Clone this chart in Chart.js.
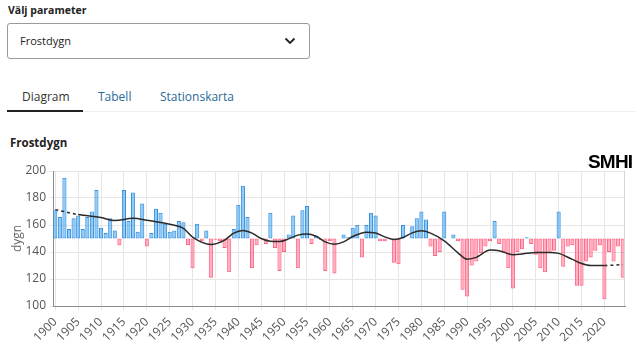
<!DOCTYPE html>
<html><head><meta charset="utf-8">
<script src="https://cdn.jsdelivr.net/npm/chart.js@4"></script>
<style>
html,body{margin:0;padding:0;background:#fff;width:640px;height:352px;overflow:hidden;font-family:"Open Sans",sans-serif;color:#222}
.abs{position:absolute;line-height:1;white-space:nowrap}
#lbl{left:8px;top:5px;font-size:10.5px;font-weight:700}
#sel{left:7px;top:23px;width:303px;height:36px;border:1px solid #9a9a9a;border-radius:3px;box-sizing:border-box}
#selt{left:20px;top:35px;font-size:11px;color:#222}
#chev{left:284px;top:37px}
.tab{top:91px;font-size:12px}
#t1{left:22px;color:#333}
#t2{left:98px;color:#2a6a9a}
#t3{left:160px;color:#2a6a9a}
#uline{left:7px;top:110px;width:76px;height:2px;background:#222}
#gline{left:83px;top:111px;width:552px;height:1px;background:#eee}
#title{left:10px;top:137px;font-size:11.5px;font-weight:700}
#logo{left:588px;top:152px;font-family:"Liberation Sans Narrow",sans-serif;font-weight:700;font-size:19px;letter-spacing:-0.8px;color:#000;z-index:2}
#wrap{left:0;top:160px;width:640px;height:192px}
</style></head>
<body>
<div class="abs" id="lbl">Välj parameter</div>
<div class="abs" id="sel"></div>
<div class="abs" id="selt">Frostdygn</div>
<svg class="abs" id="chev" width="12" height="8" viewBox="0 0 12 8"><polyline points="1.5,1.5 6,6 10.5,1.5" fill="none" stroke="#222" stroke-width="1.8"/></svg>
<div class="abs tab" id="t1">Diagram</div>
<div class="abs tab" id="t2">Tabell</div>
<div class="abs tab" id="t3">Stationskarta</div>
<div class="abs" id="uline"></div>
<div class="abs" id="gline"></div>
<div class="abs" id="title">Frostdygn</div>
<div class="abs" id="logo">SMHI</div>
<div class="abs" id="wrap"><canvas id="c"></canvas></div>
<script>
const years = ['1900','1901','1902','1903','1904','1905','1906','1907','1908','1909',
'1910','1911','1912','1913','1914','1915','1916','1917','1918','1919',
'1920','1921','1922','1923','1924','1925','1926','1927','1928','1929',
'1930','1931','1932','1933','1934','1935','1936','1937','1938','1939',
'1940','1941','1942','1943','1944','1945','1946','1947','1948','1949',
'1950','1951','1952','1953','1954','1955','1956','1957','1958','1959',
'1960','1961','1962','1963','1964','1965','1966','1967','1968','1969',
'1970','1971','1972','1973','1974','1975','1976','1977','1978','1979',
'1980','1981','1982','1983','1984','1985','1986','1987','1988','1989',
'1990','1991','1992','1993','1994','1995','1996','1997','1998','1999',
'2000','2001','2002','2003','2004','2005','2006','2007','2008','2009',
'2010','2011','2012','2013','2014','2015','2016','2017','2018','2019',
'2020','2021','2022','2023','2024'];

const frostDays = [
171,166,195,157,165,167,157,166,170,186,
158,154,165,156,145,186,163,184,155,176,
144,154,172,169,161,155,156,163,162,145,
128,161,148,156,121,149,148,143,125,157,
175,189,166,128,145,150,146,169,143,126,
140,153,167,128,171,174,146,152,149,126,
148,124,150,153,151,158,160,136,160,169,
167,148,148,150,132,131,160,150,159,165,
170,164,144,137,140,170,150,153,148,112,
107,130,133,139,144,148,163,146,140,128,
113,140,142,151,146,138,128,125,139,141,
170,129,144,145,115,115,133,136,141,145,
105,140,133,144,121];

const referenceLevel = 150;

const trendYears = ['1900','1905','1910','1913','1917','1920','1925','1928','1930','1934','1937','1939','1941','1943','1945','1947','1949','1951','1953','1955','1957','1959','1961','1963','1965','1968','1970','1972','1974','1976','1978','1980','1982','1985','1988','1990','1992','1995','1997','2000','2003','2005','2008','2010','2013','2015','2017','2020','2024'];
const trendValues = [171.4,167.7,165.5,163.3,165,163.5,160.5,157.5,151,145.6,148.8,154,156,154,150,148,147.8,149.7,152.5,153.4,151.7,147.5,145.8,147.5,151.5,154.7,154,151.2,149.3,150.7,154.2,155.7,154,148.3,139.4,134.7,136,141.4,141,138,139,139.7,139.7,139,134.5,131.5,130,130,130.6];
const dashedUntil = '1905';
const dashedFrom = '2020';

const tickYears = ['1900','1905','1910','1915','1920','1925','1930','1935','1940','1945','1950','1955','1960','1965','1970','1975','1980','1985','1990','1995','2000','2005','2010','2015','2020'];
const yTicks = {min:100, max:200, step:20};

const trendData = years.map(y => { const i = trendYears.indexOf(y); return i >= 0 ? trendValues[i] : null; });
const iDashEnd = years.indexOf(dashedUntil), iDashStart = years.indexOf(dashedFrom);

const blueFill='rgba(54,162,235,0.55)', blueLine='rgb(54,142,225)';
const redFill='rgba(255,99,132,0.5)', redLine='rgb(255,99,132)';

const edgePlugin = {id:'edge', afterDraw(ch){const a=ch.chartArea,c=ch.ctx;c.save();c.strokeStyle='#d6d6d6';c.lineWidth=1;c.beginPath();c.moveTo(Math.round(a.right)-0.5,a.top);c.lineTo(Math.round(a.right)-0.5,a.bottom);c.stroke();c.restore();}};

Chart.defaults.font.family = '"Open Sans", sans-serif';
new Chart(document.getElementById('c'), {
  data: {
    labels: years,
    datasets: [
      {type:'line', data: trendData, borderColor:'#2a2a2a', borderWidth:1.5, pointRadius:0, spanGaps:true,
       cubicInterpolationMode:'monotone', order:0,
       segment:{borderDash: c => (c.p1DataIndex <= iDashEnd || c.p0DataIndex >= iDashStart) ? [3,3] : undefined}},
      {type:'bar', data: frostDays, base: referenceLevel, order:1,
       backgroundColor: c => c.raw >= referenceLevel ? blueFill : redFill,
       borderColor: c => c.raw >= referenceLevel ? blueLine : redLine,
       borderWidth:1, borderSkipped:false, categoryPercentage:1, barPercentage:0.9}
    ]
  },
  options: {
    responsive:true, maintainAspectRatio:false, animation:false,
    layout:{padding:{top:11,right:15,left:0,bottom:0}},
    plugins:{legend:{display:false}, tooltip:{enabled:false}},
    scales:{
      x:{type:'category', offset:true,
         grid:{offset:false, color:'#e6e6e6', tickLength:4},
         border:{color:'#8a8a8a'},
         ticks:{autoSkip:false, minRotation:45, maxRotation:45, color:'#555', font:{size:12}, padding:5,
           callback(v){ const y=this.getLabelForValue(v); return tickYears.includes(y) ? y : null; }},
         afterFit(s){ s.height = 46; }},
      y:{min:yTicks.min, max:yTicks.max,
         ticks:{stepSize:yTicks.step, color:'#555', font:{size:12}, padding:3},
         grid:{color:'#e6e6e6', tickLength:4},
         border:{color:'#8a8a8a'},
         title:{display:true, text:'dygn', color:'#666', font:{size:12}, padding:{top:10,bottom:0}},
         afterFit(s){ s.width = 53; }}
    }
  },
  plugins:[edgePlugin]
});
</script>
</body></html>
